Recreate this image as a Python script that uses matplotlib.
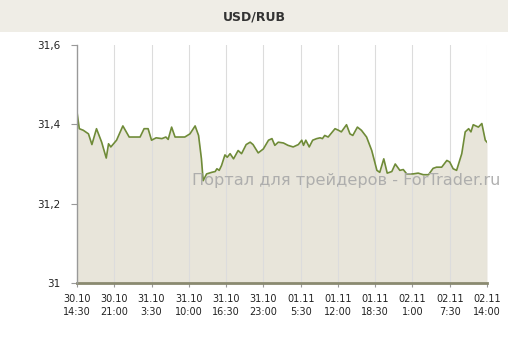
import matplotlib
matplotlib.use("Agg")
import matplotlib.pyplot as plt
from matplotlib.patches import Rectangle

# hours since 30.10 14:30
hours = [0.0, 0.4, 1.1, 2.0, 2.6, 3.4, 4.3, 5.1, 5.5, 5.9, 6.9, 8.0, 9.1, 11.0, 11.7, 12.4,
         13.0, 13.8, 14.8, 15.5, 15.9, 16.5, 17.1, 18.8, 19.7, 20.6, 21.2, 21.7, 22.0, 22.6,
         23.5, 24.1, 24.4, 24.8, 25.2, 25.8, 26.2, 26.7, 27.3, 28.1, 28.7, 29.5, 30.2, 30.7,
         31.6, 32.5, 33.4, 34.0, 34.5, 35.1, 36.0, 36.8, 37.7, 38.6, 39.2, 39.5, 39.9, 40.5,
         41.1, 41.8, 42.4, 42.8, 43.2, 43.8, 45.0, 45.6, 46.1, 47.0, 47.6, 48.1, 48.9, 49.6,
         50.5, 51.4, 52.3, 52.8, 53.5, 54.1, 54.9, 55.5, 56.3, 56.9, 57.5, 58.6, 59.5, 60.4,
         61.3, 62.1, 62.7, 63.6, 64.5, 65.0, 65.6, 66.2, 67.1, 67.7, 68.3, 68.7, 69.1, 70.0,
         70.6, 71.2, 71.5]
rate = [31.431, 31.389, 31.385, 31.376, 31.349, 31.389, 31.355, 31.315, 31.351, 31.343, 31.360,
        31.396, 31.368, 31.368, 31.389, 31.389, 31.360, 31.366, 31.364, 31.368, 31.362, 31.393,
        31.368, 31.368, 31.376, 31.396, 31.372, 31.313, 31.258, 31.275, 31.279, 31.281, 31.288,
        31.284, 31.296, 31.323, 31.317, 31.326, 31.313, 31.334, 31.326, 31.349, 31.355, 31.349,
        31.328, 31.338, 31.360, 31.364, 31.347, 31.355, 31.353, 31.347, 31.343, 31.349, 31.360,
        31.347, 31.360, 31.343, 31.360, 31.364, 31.366, 31.364, 31.372, 31.368, 31.389, 31.385,
        31.381, 31.399, 31.376, 31.372, 31.393, 31.385, 31.368, 31.334, 31.284, 31.279, 31.313,
        31.277, 31.281, 31.300, 31.284, 31.286, 31.275, 31.275, 31.277, 31.273, 31.273, 31.289,
        31.292, 31.292, 31.309, 31.305, 31.288, 31.284, 31.326, 31.381, 31.389, 31.381, 31.399,
        31.393, 31.402, 31.360, 31.355]

tick_hours = [0, 6.5, 13, 19.5, 26, 32.5, 39, 45.5, 52, 58.5, 65, 71.5]
tick_labels = ["30.10\n14:30", "30.10\n21:00", "31.10\n3:30", "31.10\n10:00", "31.10\n16:30",
               "31.10\n23:00", "01.11\n5:30", "01.11\n12:00", "01.11\n18:30", "02.11\n1:00",
               "02.11\n7:30", "02.11\n14:00"]
y_ticks = [31.0, 31.2, 31.4, 31.6]
y_labels = ["31", "31,2", "31,4", "31,6"]
title = "USD/RUB"
watermark = "Портал для трейдеров - ForTrader.ru"

W, H = 508, 340
fig = plt.figure(figsize=(W / 100, H / 100), dpi=100)
fig.patch.set_facecolor("white")

# title band
fig.patches.append(Rectangle((0, 1 - 32 / H), 1, 32 / H, transform=fig.transFigure,
                             facecolor="#efede6", edgecolor="none", zorder=0))
fig.text(254 / W, 1 - 17 / H, title, ha="center", va="center", fontsize=9,
         fontweight="bold", color="#333333")

ax = fig.add_axes([77 / W, 1 - 283 / H, 410 / W, 238 / H])
ax.set_facecolor("white")
ax.fill_between(hours, rate, 31.0, color="#e8e5da", linewidth=0, zorder=1)
ax.plot(hours, rate, color="#6f8b38", linewidth=1.2, zorder=3)

ax.set_xlim(0, 71.5)
ax.set_ylim(31.0, 31.6)
ax.set_xticks(tick_hours)
ax.set_xticklabels(tick_labels, fontsize=7, color="#222222", linespacing=1.35)
ax.set_yticks(y_ticks)
ax.set_yticklabels(y_labels, fontsize=7.5, color="#222222")
for t in tick_hours[1:]:
    ax.axvline(t, color="#dcdcdc", linewidth=0.8, zorder=2)

for s in ["top", "right"]:
    ax.spines[s].set_visible(False)
ax.spines["left"].set_color("#999999")
ax.spines["left"].set_linewidth(1.0)
ax.spines["bottom"].set_color("#8a8a70")
ax.spines["bottom"].set_linewidth(2.0)
ax.spines["left"].set_zorder(4)
ax.tick_params(axis="y", length=4, width=0.8, color="#999999", pad=8)
ax.tick_params(axis="x", length=3, width=0.8, color="#999999", pad=5)

fig.text(346 / W, 1 - 180 / H, watermark, ha="center", va="center", fontsize=11.6,
         color="#a8a8a8", alpha=0.9, zorder=10)

fig.savefig("out.png", dpi=100, facecolor="white")
